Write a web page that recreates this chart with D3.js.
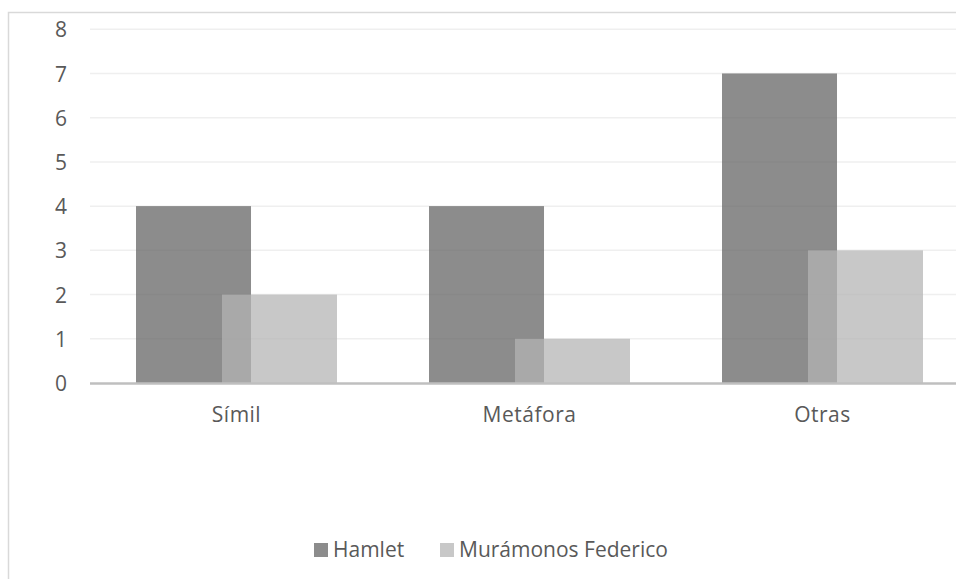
<!DOCTYPE html>
<html><head><meta charset="utf-8">
<script src="https://cdn.jsdelivr.net/npm/d3@7"></script>
<style>
html,body{margin:0;padding:0;background:#fff;}
svg{display:block;}
text{font-family:"Open Sans",sans-serif;fill:#595959;}
</style></head>
<body>
<script>
const categories = ["Símil", "Metáfora", "Otras"];
const seriesNames = ["Hamlet", "Murámonos Federico"];
const hamlet = [4, 4, 7];
const federico = [2, 1, 3];
const yTicks = [0, 1, 2, 3, 4, 5, 6, 7, 8];

const W = 956, H = 579;
const colors = ["#616161", "#b3b3b3"];
const opac = 0.73;
const fs = 21;

const svg = d3.select("body").append("svg").attr("width", W).attr("height", H);

// chart border
svg.append("rect").attr("x", 8.5).attr("y", 12.5).attr("width", 1000).attr("height", 1000)
  .attr("fill", "none").attr("stroke", "#d9d9d9").attr("stroke-width", 1.5);

const x0 = d3.scaleBand().domain(categories).range([90, 969]).padding(0);
const y = d3.scaleLinear().domain([0, 8]).range([383, 29.25]);

// gridlines
svg.append("g").selectAll("line").data(yTicks.filter(d => d > 0)).join("line")
  .attr("x1", 90).attr("x2", W).attr("y1", d => y(d)).attr("y2", d => y(d))
  .attr("stroke", "#efefef").attr("stroke-width", 1.5);

// y labels
const yAxis = d3.axisLeft(y).tickValues(yTicks).tickSize(0).tickPadding(0).tickFormat(d3.format("d"));
const ya = svg.append("g").attr("transform", "translate(67,0)").call(yAxis);
ya.select(".domain").remove();
ya.selectAll("text").attr("font-size", fs).attr("font-family", "Open Sans").attr("fill", "#595959").attr("dy", "0.36em");

// bars
const bw = x0.bandwidth();
const barW = bw * 0.3925;
const offsets = [bw * 0.157, bw * 0.4505];
const data = categories.map((c, i) => ({c, vals: [hamlet[i], federico[i]]}));
const g = svg.append("g");
data.forEach(d => {
  d.vals.forEach((v, s) => {
    g.append("rect")
      .attr("x", x0(d.c) + offsets[s])
      .attr("y", y(v))
      .attr("width", barW)
      .attr("height", y(0) - y(v))
      .attr("fill", colors[s])
      .attr("fill-opacity", opac);
  });
});

// x axis line
svg.append("line").attr("x1", 90).attr("x2", W).attr("y1", 383.5).attr("y2", 383.5)
  .attr("stroke", "#bfbfbf").attr("stroke-width", 2.5);

// category labels
const xAxis = d3.axisBottom(x0).tickSize(0).tickPadding(0);
const xa = svg.append("g").attr("transform", "translate(0,422)").call(xAxis);
xa.select(".domain").remove();
xa.selectAll("text").attr("font-size", fs).attr("font-family", "Open Sans").attr("fill", "#595959")
  .attr("dy", 0).attr("letter-spacing", "0.5px");

// legend
const legX = [314, 440];
const lg = svg.append("g");
seriesNames.forEach((n, i) => {
  lg.append("rect").attr("x", legX[i]).attr("y", 543).attr("width", 14).attr("height", 14)
    .attr("fill", colors[i]).attr("fill-opacity", opac);
  lg.append("text").attr("x", legX[i] + 19).attr("y", 557).attr("font-size", fs)
    .text(n);
});
</script>
</body></html>
